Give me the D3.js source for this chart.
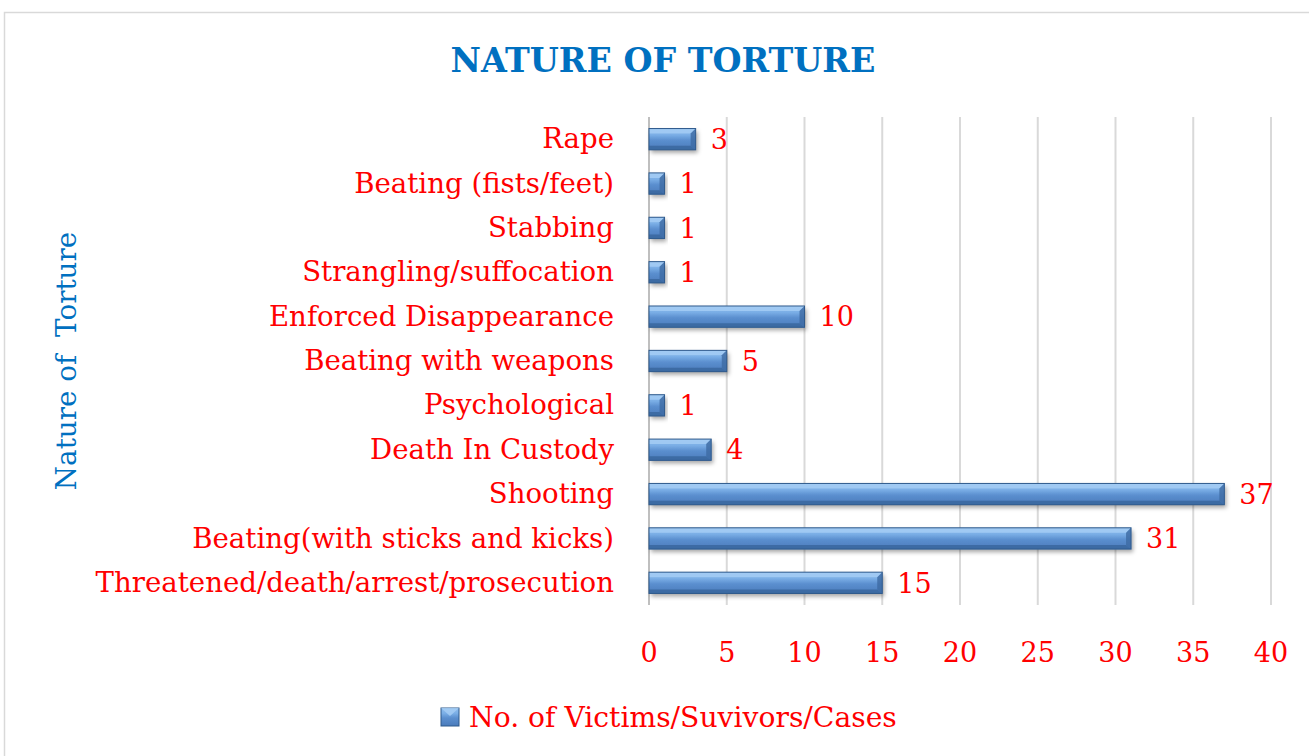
<!DOCTYPE html>
<html><head><meta charset="utf-8">
<script src="https://cdn.jsdelivr.net/npm/d3@7"></script>
<style>
html,body{margin:0;padding:0;background:#fff;}
svg{display:block;}
text{font-family:"DejaVu Serif",serif;}
</style></head>
<body>
<svg id="chart" width="1309" height="756"></svg>
<script>
const categories = ["Rape","Beating (fists/feet)","Stabbing","Strangling/suffocation","Enforced Disappearance","Beating with weapons","Psychological","Death In Custody","Shooting","Beating(with sticks and kicks)","Threatened/death/arrest/prosecution"];
const values = [3,1,1,1,10,5,1,4,37,31,15];
const xTicks = [0,5,10,15,20,25,30,35,40];
const seriesName = "No. of Victims/Suvivors/Cases";
const title = "NATURE OF TORTURE";
const yTitle = "Nature of  Torture";

const svg = d3.select("#chart");
const red = "#ff0000", blue = "#0070c0";

svg.append("rect").attr("x",4.5).attr("y",12.5).attr("width",1320).attr("height",760)
  .attr("fill","#fff").attr("stroke","#d9d9d9").attr("stroke-width",1.5);

const x = d3.scaleLinear().domain([0,40]).range([649,1271]);
const y = d3.scaleBand().domain(categories).range([117,605]).paddingInner(0.52).paddingOuter(0.26);

const defs = svg.append("defs");
const g = defs.append("linearGradient").attr("id","barGrad").attr("x1",0).attr("x2",0).attr("y1",0).attr("y2",1);
g.append("stop").attr("offset","0%").attr("stop-color","#8ebcec");
g.append("stop").attr("offset","30%").attr("stop-color","#7aaee6");
g.append("stop").attr("offset","55%").attr("stop-color","#5b8fcf");
g.append("stop").attr("offset","100%").attr("stop-color","#4a7bbb");
const f = defs.append("filter").attr("id","shadow").attr("x","-10%").attr("y","-30%").attr("width","130%").attr("height","180%");
f.append("feDropShadow").attr("dx",2).attr("dy",3).attr("stdDeviation",2).attr("flood-color","#000").attr("flood-opacity",0.35);

svg.append("g").selectAll("line").data(xTicks).join("line")
  .attr("x1",d=>x(d)).attr("x2",d=>x(d)).attr("y1",117).attr("y2",605)
  .attr("stroke",d=>d===0?"#bfbfbf":"#d9d9d9").attr("stroke-width",2);

const bars = svg.append("g").selectAll("g").data(categories).join("g");
bars.each(function(c,i){
  const gg = d3.select(this);
  const x0 = x(0), x1 = x(values[i]), y0 = y(c), h = y.bandwidth(), y1 = y0+h;
  const b = Math.min(5, (x1-x0)/2);
  gg.append("rect").attr("x",x0).attr("y",y0).attr("width",x1-x0).attr("height",h)
    .attr("fill","url(#barGrad)").attr("filter","url(#shadow)");
  gg.append("polygon").attr("points",[[x0,y0],[x1,y0],[x1-b,y0+5],[x0,y0+5]].map(p=>p.join(",")).join(" "))
    .attr("fill","#a4cdf4").attr("opacity",0.85);
  gg.append("polygon").attr("points",[[x1,y0],[x1,y1],[x1-b,y1-4],[x1-b,y0+5]].map(p=>p.join(",")).join(" "))
    .attr("fill","#3d6aa3").attr("opacity",0.8);
  gg.append("polygon").attr("points",[[x0,y1],[x1,y1],[x1-b,y1-4],[x0,y1-4]].map(p=>p.join(",")).join(" "))
    .attr("fill","#3a679f").attr("opacity",0.85);
  gg.append("rect").attr("x",x0).attr("y",y0).attr("width",x1-x0).attr("height",h)
    .attr("fill","none").attr("stroke","#2f5a8c").attr("stroke-width",1);
});

svg.append("g").selectAll("text").data(categories).join("text")
  .attr("x",(c,i)=>x(values[i])+15).attr("y",c=>y(c)+y.bandwidth()/2)
  .attr("dy","0.36em").attr("fill",red).attr("font-size",27)
  .text((c,i)=>values[i]);

svg.append("g").selectAll("text").data(categories).join("text")
  .attr("x",614).attr("y",c=>y(c)+y.bandwidth()/2).attr("dy","0.33em")
  .attr("text-anchor","end").attr("fill",red).attr("font-size",27.6)
  .text(c=>c);

svg.append("g").selectAll("text").data(xTicks).join("text")
  .attr("x",d=>x(d)).attr("y",652).attr("dy","0.36em").attr("text-anchor","middle")
  .attr("fill",red).attr("font-size",27).text(d=>d);

svg.append("text").attr("x",663).attr("y",60).attr("dy","0.35em").attr("text-anchor","middle")
  .attr("fill",blue).attr("font-weight","bold").attr("font-size",33.3).text(title);

svg.append("text").attr("transform","translate(66,361) rotate(-90)").attr("dy","0.35em")
  .attr("text-anchor","middle").attr("fill",blue).attr("font-size",27.8)
  .style("white-space","pre").attr("xml:space","preserve").text(yTitle);

const lg = svg.append("g");
lg.append("rect").attr("x",441).attr("y",708).attr("width",18).attr("height",18).attr("fill","url(#barGrad)").attr("stroke","#2f5a8c");
lg.append("polygon").attr("points","441,708 459,708 450,716").attr("fill","#a4cdf4").attr("opacity",0.85);
lg.append("text").attr("x",469).attr("y",717).attr("dy","0.35em").attr("fill",red).attr("font-size",28.2).text(seriesName);
</script>
</body></html>
